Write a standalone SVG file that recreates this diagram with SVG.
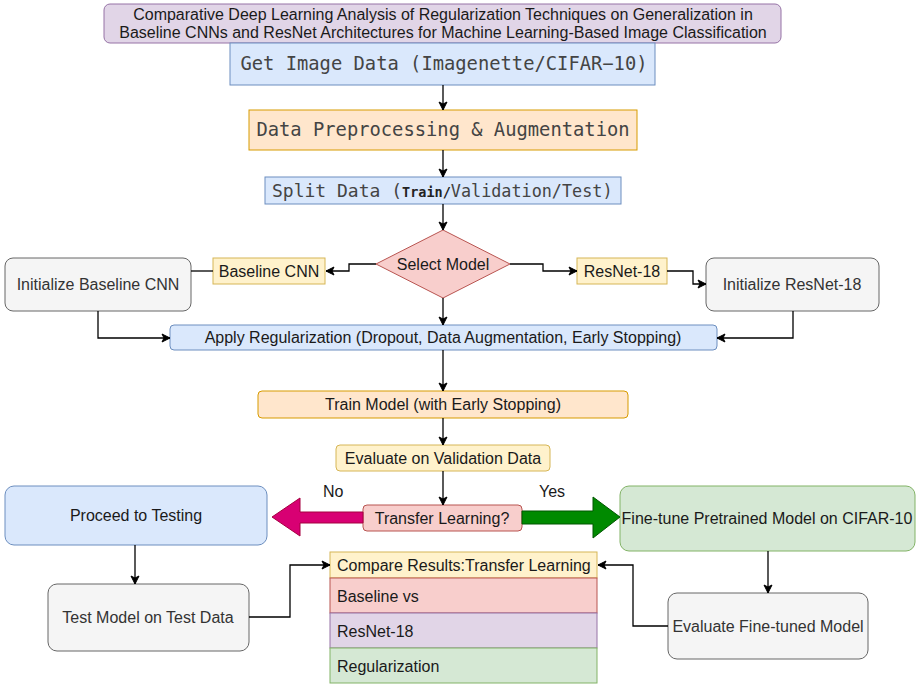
<svg xmlns="http://www.w3.org/2000/svg" width="916" height="685" viewBox="0 0 916 685">
<defs>
<marker id="ah" markerWidth="10" markerHeight="10" refX="9" refY="5" orient="auto" markerUnits="userSpaceOnUse">
<path d="M1,1 L9,5 L1,9 L3,5 Z" fill="#000" stroke="#000" stroke-width="1"/>
</marker>
<style>
.t{font-family:"Liberation Sans",Arial,Helvetica,sans-serif;font-size:16px;fill:#1a1a1a}
.g{fill:#333}
.m{font-family:"DejaVu Sans Mono",monospace;fill:#444}
.c{text-anchor:middle}
.purple{fill:#e1d5e7;stroke:#9673a6}
.blue{fill:#dae8fc;stroke:#6c8ebf}
.orange{fill:#ffe6cc;stroke:#d79b00}
.yellow{fill:#fff2cc;stroke:#d6b656}
.red{fill:#f8cecc;stroke:#b85450}
.grey{fill:#f5f5f5;stroke:#666}
.green{fill:#d5e8d4;stroke:#82b366}
.ln{fill:none;stroke:#000;stroke-width:1.3}
</style>
</defs>
<rect width="916" height="685" fill="#fff"/>

<g id="title">
<rect class="purple" x="104" y="4" width="677" height="39" rx="6"/>
<text class="t c" x="443" y="20">Comparative Deep Learning Analysis of Regularization Techniques on Generalization in</text>
<text class="t c" x="443" y="38">Baseline CNNs and ResNet Architectures for Machine Learning-Based Image Classification</text>
</g>
<g id="get-data">
<rect class="blue" x="230" y="43" width="425" height="42"/>
<text class="m c" x="444" y="70" font-size="18.8">Get Image Data (Imagenette/CIFAR−10)</text>
</g>
<g id="preprocess">
<rect class="orange" x="249" y="110" width="388" height="40"/>
<text class="m c" x="443" y="136" font-size="18.8">Data Preprocessing &amp; Augmentation</text>
</g>
<g id="split">
<rect class="blue" x="265" y="177" width="356" height="27"/>
<text class="m" x="272" y="197" font-size="18">Split Data (<tspan font-size="13.5" font-weight="bold" fill="#222">Train/</tspan><tspan font-size="16.8">Validation/Test)</tspan></text>
</g>
<g id="select-model">
<polygon class="red" points="443,230 510,264 443,298 376,264"/>
<text class="t c" x="443" y="270">Select Model</text>
</g>
<g id="baseline-cnn">
<rect class="yellow" x="213" y="258" width="112" height="26"/>
<text class="t c" x="269" y="277">Baseline CNN</text>
</g>
<g id="init-baseline">
<rect class="grey" x="5" y="258" width="186" height="53" rx="8"/>
<text class="t g c" x="98" y="290">Initialize Baseline CNN</text>
</g>
<g id="resnet18">
<rect class="yellow" x="577" y="258" width="90" height="26"/>
<text class="t c" x="622" y="277">ResNet-18</text>
</g>
<g id="init-resnet">
<rect class="grey" x="706" y="258" width="173" height="53" rx="8"/>
<text class="t g c" x="792" y="290">Initialize ResNet-18</text>
</g>
<g id="apply-reg">
<rect class="blue" x="170" y="325" width="547" height="25" rx="4"/>
<text class="t c" x="443" y="343">Apply Regularization (Dropout, Data Augmentation, Early Stopping)</text>
</g>
<g id="train">
<rect class="orange" x="258" y="391" width="370" height="27" rx="4"/>
<text class="t c" x="443" y="410">Train Model (with Early Stopping)</text>
</g>
<g id="evaluate-val">
<rect class="yellow" x="336" y="445" width="214" height="26" rx="4"/>
<text class="t c" x="443" y="464">Evaluate on Validation Data</text>
</g>
<g id="transfer">
<rect class="red" x="363" y="505" width="159" height="26" rx="4"/>
<text class="t c" x="442" y="524">Transfer Learning?</text>
</g>
<g id="proceed">
<rect class="blue" x="5" y="486" width="262" height="59" rx="9"/>
<text class="t c" x="136" y="521">Proceed to Testing</text>
</g>
<g id="test-model">
<rect class="grey" x="48" y="584" width="201" height="67" rx="9"/>
<text class="t g c" x="148" y="623">Test Model on Test Data</text>
</g>
<g id="finetune">
<rect class="green" x="620" y="486" width="295" height="65" rx="9"/>
<text class="t c" x="767" y="524">Fine-tune Pretrained Model on CIFAR-10</text>
</g>
<g id="evaluate-ft">
<rect class="grey" x="668" y="593" width="200" height="66" rx="9"/>
<text class="t g c" x="768" y="632">Evaluate Fine-tuned Model</text>
</g>
<g id="compare">
<rect class="yellow" x="330" y="552" width="267" height="26"/>
<rect class="red" x="330" y="578" width="267" height="35"/>
<rect class="purple" x="330" y="613" width="267" height="35"/>
<rect class="green" x="330" y="648" width="267" height="35"/>
<text class="t" x="337" y="571">Compare Results:Transfer Learning</text>
<text class="t" x="337" y="602">Baseline vs</text>
<text class="t" x="337" y="637">ResNet-18</text>
<text class="t" x="337" y="672">Regularization</text>
</g>

<g id="connectors">
<path class="ln" d="M443,85 V110" marker-end="url(#ah)"/>
<path class="ln" d="M443,150 V177" marker-end="url(#ah)"/>
<path class="ln" d="M443,204 V230" marker-end="url(#ah)"/>
<path class="ln" d="M376,264 H349 V271 H326" marker-end="url(#ah)"/>
<path class="ln" d="M213,271 H191"/>
<path class="ln" d="M98,311 V338 H170" marker-end="url(#ah)"/>
<path class="ln" d="M510,264 H543 V271 H577" marker-end="url(#ah)"/>
<path class="ln" d="M667,271 H693 V284 H706" marker-end="url(#ah)"/>
<path class="ln" d="M793,311 V338 H717" marker-end="url(#ah)"/>
<path class="ln" d="M443,298 V325" marker-end="url(#ah)"/>
<path class="ln" d="M443,350 V391" marker-end="url(#ah)"/>
<path class="ln" d="M443,418 V445" marker-end="url(#ah)"/>
<path class="ln" d="M443,471 V505" marker-end="url(#ah)"/>
<polygon points="363,512 300,512 300,498 272,517 300,536 300,523 363,523" fill="#d80073" stroke="#a50040" stroke-width="1"/>
<polygon points="522,511 593,511 593,497 620,517 593,538 593,524 522,524" fill="#008a00" stroke="#005700" stroke-width="1"/>
<text class="t" x="323" y="497" font-size="13">No</text>
<text class="t" x="539" y="497" font-size="13">Yes</text>
<path class="ln" d="M135,545 V584" marker-end="url(#ah)"/>
<path class="ln" d="M249,617 H290 V565 H330" marker-end="url(#ah)"/>
<path class="ln" d="M768,551 V593" marker-end="url(#ah)"/>
<path class="ln" d="M668,626 H633 V565 H598" marker-end="url(#ah)"/>
</g>
</svg>
